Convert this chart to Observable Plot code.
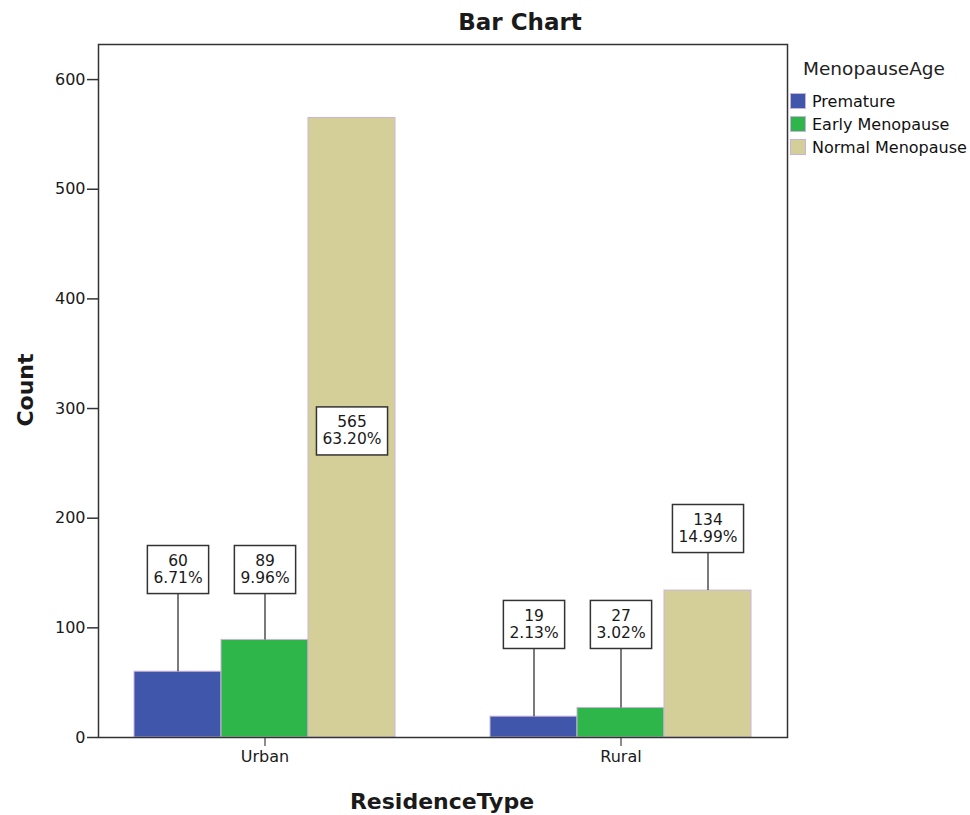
<!DOCTYPE html>
<html>
<head>
<meta charset="utf-8">
<script src="https://cdn.jsdelivr.net/npm/d3@7"></script>
<script src="https://cdn.jsdelivr.net/npm/@observablehq/plot@0.6"></script>
<style>
  html, body { margin: 0; padding: 0; background: #fff; }
  body { font-family: "DejaVu Sans", sans-serif; color: #1a1a1a; }
  #wrap { position: relative; width: 970px; height: 815px; overflow: hidden; }
  #chart { position: absolute; left: 0; top: 0; }
  .title { position: absolute; left: 520px; top: 22px; transform: translate(-50%, -50%); font-weight: bold; font-size: 23px; white-space: nowrap; }
  .ylab { position: absolute; left: 25px; top: 390px; transform: translate(-50%, -50%) rotate(-90deg); font-weight: bold; font-size: 22px; white-space: nowrap; }
  .xlab { position: absolute; left: 442px; top: 801px; transform: translate(-50%, -50%); font-weight: bold; font-size: 22px; white-space: nowrap; }
  .legtitle { position: absolute; left: 803px; top: 68px; transform: translateY(-50%); font-size: 18.5px; white-space: nowrap; color: #222; }
  .legrows { position: absolute; left: 790px; top: 89.5px; }
  .legrow { display: flex; align-items: center; height: 23px; font-size: 16px; white-space: nowrap; color: #111; }
  .sw { width: 16px; height: 16px; box-sizing: border-box; border: 1px solid #c9b3d8; margin-right: 6px; }
</style>
</head>
<body>
<div id="wrap">
  <div id="chart"></div>
  <div class="title">Bar Chart</div>
  <div class="ylab">Count</div>
  <div class="xlab">ResidenceType</div>
  <div class="legtitle">MenopauseAge</div>
  <div class="legrows" id="legend"></div>
</div>
<script>
// ---- data ----
const residence = ["Urban", "Rural"];
const categories = ["Premature", "Early Menopause", "Normal Menopause"];
const urbanCounts = [60, 89, 565];
const ruralCounts = [19, 27, 134];
const urbanPct = ["6.71%", "9.96%", "63.20%"];
const ruralPct = ["2.13%", "3.02%", "14.99%"];
// where each label box sits, in count units
const urbanLabelAt = [153.6, 153.6, 280];
const ruralLabelAt = [103.5, 103.5, 191];
const yTicks = [0, 100, 200, 300, 400, 500, 600];
const colors = ["#3f56ab", "#2eb64a", "#d4cf98"];

const rows = [];
categories.forEach((c, i) => {
  rows.push({res: "Urban", cat: c, count: urbanCounts[i], pct: urbanPct[i], at: urbanLabelAt[i]});
  rows.push({res: "Rural", cat: c, count: ruralCounts[i], pct: ruralPct[i], at: ruralLabelAt[i]});
});

const svg = Plot.plot({
  width: 970,
  height: 815,
  marginTop: 44,
  marginBottom: 78,
  marginLeft: 97,
  marginRight: 182,
  style: {fontFamily: "DejaVu Sans, sans-serif", fontSize: "16px", color: "#1a1a1a", background: "white"},
  fx: {domain: residence, paddingInner: 0.0644, paddingOuter: 0, label: null},
  x: {domain: categories, paddingInner: 0, paddingOuter: 0.4, axis: null},
  y: {domain: [0, 632], axis: null},
  color: {domain: categories, range: colors},
  marks: [
    Plot.barY(rows, {fx: "res", x: "cat", y: "count", fill: "cat", stroke: "#cbb4d9", strokeWidth: 1}),
    Plot.ruleX(rows.filter(d => d.at > d.count), {fx: "res", x: "cat", y1: "count", y2: "at", stroke: "#333", strokeWidth: 1.3}),
    Plot.text(rows, {fx: "res", x: "cat", y: "at", text: d => `${d.count}\n${d.pct}`, fontSize: 15.5, lineHeight: 1.1, fill: "#1a1a1a"}),
    Plot.axisY({ticks: yTicks, tickSize: 11, tickPadding: 2, fontSize: 16, label: null, stroke: "#333", strokeWidth: 1.5}),
    Plot.axisFx({anchor: "bottom", tickSize: 9, tickPadding: 4, fontSize: 16, label: null}),
    Plot.frame({facet: "super", stroke: "#333", strokeWidth: 1.5})
  ]
});
document.getElementById("chart").appendChild(svg);

// boxes behind the value labels
d3.select(svg).selectAll("g[aria-label='text'] text").each(function() {
  const bb = this.getBBox();
  const padX = 6, padY = 6.5;
  const r = document.createElementNS("http://www.w3.org/2000/svg", "rect");
  r.setAttribute("x", bb.x - padX);
  r.setAttribute("y", bb.y - padY);
  r.setAttribute("width", bb.width + 2 * padX);
  r.setAttribute("height", bb.height + 2 * padY);
  r.setAttribute("fill", "white");
  r.setAttribute("stroke", "#333");
  r.setAttribute("stroke-width", 1.5);
  const t = this.getAttribute("transform");
  if (t) r.setAttribute("transform", t);
  this.parentNode.insertBefore(r, this);
});

// legend
const leg = document.getElementById("legend");
categories.forEach((c, i) => {
  const row = document.createElement("div");
  row.className = "legrow";
  const sw = document.createElement("div");
  sw.className = "sw";
  sw.style.background = colors[i];
  const lab = document.createElement("span");
  lab.textContent = c;
  row.appendChild(sw);
  row.appendChild(lab);
  leg.appendChild(row);
});
</script>
</body>
</html>
